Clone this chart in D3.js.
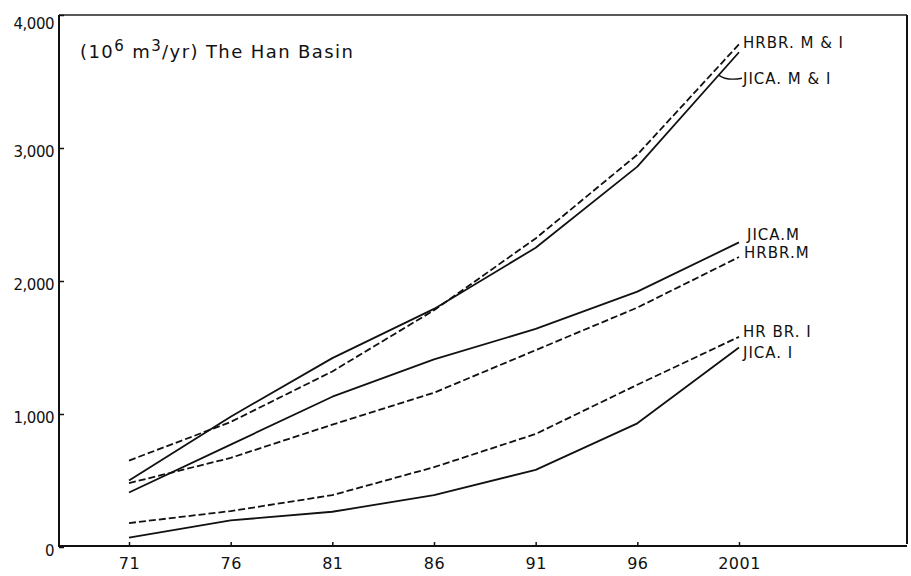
<!DOCTYPE html>
<html>
<head>
<meta charset="utf-8">
<script src="https://cdn.jsdelivr.net/npm/d3@7"></script>
<style>
  body { margin: 0; background: #fff; }
  svg { display: block; }
  text { font-family: "DejaVu Sans", "Liberation Sans", sans-serif; fill: #111; }
</style>
</head>
<body>
<div id="chart"></div>
<script>
// Han Basin water demand, 10^6 m3/yr
var w = 911,
    h = 576;
var plotLeft = 59, plotRight = 907, plotTop = 15, plotBottom = 547;

var years = [1971, 1976, 1981, 1986, 1991, 1996, 2001];
var yearLabels = ["71", "76", "81", "86", "91", "96", "2001"];
var yTicks = [0, 1000, 2000, 3000, 4000];

var hrbrMI = [650, 940, 1320, 1780, 2320, 2950, 3780];
var jicaMI = [500, 980, 1420, 1790, 2250, 2860, 3720];
var jicaM  = [410, 770, 1130, 1410, 1640, 1920, 2290];
var hrbrM  = [480, 670, 920, 1160, 1480, 1800, 2180];
var hrbrI  = [180, 270, 390, 600, 850, 1220, 1580];
var jicaI  = [70, 200, 265, 390, 580, 930, 1500];

var seriesLabels = ["HRBR. M & I", "JICA. M & I", "JICA.M", "HRBR.M", "HR BR. I", "JICA. I"];

var series = [hrbrMI, jicaMI, jicaM, hrbrM, hrbrI, jicaI].map(function(v, i) {
  return { name: seriesLabels[i], values: v };
});
// dashed = HRBR, solid = JICA
var dashed = [true, false, false, true, true, false];
var labelShift = [-2, 26, -8, -4, -5, 5];
var labelNudge = [4, 4, 8, 5, 4, 4];

var xScale = d3.scaleLinear()
    .domain([1971, 2001])
    .range([129, 739]);

var yScale = d3.scaleLinear()
    .domain([0, 4000])
    .range([plotBottom, plotTop]);

var svg = d3.select("#chart")
    .append("svg")
    .attr("width", w)
    .attr("height", h);

// frame
svg.append("line")
    .attr("x1", plotLeft).attr("x2", plotRight).attr("y1", plotTop).attr("y2", plotTop)
    .attr("stroke", "#222").attr("stroke-width", 1.3);
svg.append("line")
    .attr("x1", plotRight).attr("x2", plotRight).attr("y1", plotTop).attr("y2", plotBottom - 3)
    .attr("stroke", "#111").attr("stroke-width", 2);

// x axis
var xAxis = svg.append("g")
    .attr("transform", "translate(0," + (plotBottom - 1) + ")")
    .call(d3.axisBottom(xScale)
      .tickValues(years)
      .tickFormat(function(d, i) { return yearLabels[i]; })
      .tickSize(-4)
      .tickPadding(12));
xAxis.select(".domain").remove();
xAxis.append("line")
    .attr("x1", plotLeft).attr("x2", plotRight)
    .attr("stroke", "#111").attr("stroke-width", 2);
xAxis.selectAll(".tick line").attr("stroke", "#111").attr("stroke-width", 1.5);
xAxis.selectAll("text")
    .attr("font-size", 16)
    .attr("fill", "#111")
    .attr("letter-spacing", 0.5)
    .style("font-family", "DejaVu Sans, sans-serif");

// y axis
var yAxis = svg.append("g")
    .attr("transform", "translate(" + plotLeft + ",0)")
    .call(d3.axisLeft(yScale)
      .tickValues(yTicks)
      .tickFormat(d3.format(","))
      .tickSize(-5)
      .tickPadding(5));
yAxis.select(".domain").remove();
yAxis.append("line")
    .attr("y1", plotTop).attr("y2", plotBottom)
    .attr("stroke", "#111").attr("stroke-width", 2);
yAxis.selectAll(".tick line").attr("stroke", "#111").attr("stroke-width", 1.5);
yAxis.selectAll("text")
    .attr("font-size", 15)
    .attr("fill", "#111")
    .attr("letter-spacing", -0.5)
    .attr("dy", function(d) { return d === 4000 ? "0.9em" : "0.55em"; })
    .style("font-family", "DejaVu Sans, sans-serif");

// title
var title = svg.append("text")
    .attr("x", 80)
    .attr("y", 58)
    .attr("font-size", 18)
    .attr("letter-spacing", 1.4);
title.append("tspan").text("(10");
title.append("tspan").attr("dy", -7).attr("font-size", 15).text("6");
title.append("tspan").attr("dy", 7).text(" m");
title.append("tspan").attr("dy", -7).attr("font-size", 15).text("3");
title.append("tspan").attr("dy", 7).text("/yr) The  Han  Basin");

// lines
var line = d3.line()
    .x(function(d, i) { return xScale(years[i]); })
    .y(function(d) { return yScale(d); });

svg.selectAll(".series")
    .data(series)
    .enter().append("path")
    .attr("class", "series")
    .attr("fill", "none")
    .attr("stroke", "#111")
    .attr("stroke-width", 1.8)
    .attr("stroke-linejoin", "round")
    .attr("stroke-dasharray", function(d, i) { return dashed[i] ? "7,3" : null; })
    .attr("d", function(d) { return line(d.values); });

// end labels
svg.selectAll(".lab")
    .data(series)
    .enter().append("text")
    .attr("class", "lab")
    .attr("x", function(d, i) { return xScale(2001) + labelNudge[i]; })
    .attr("y", function(d, i) { return yScale(d.values[d.values.length - 1]) + labelShift[i]; })
    .attr("dy", "0.36em")
    .attr("font-size", 15)
    .attr("letter-spacing", 1)
    .text(function(d) { return d.name; });

// leader for JICA M & I
var n = jicaMI.length;
var vAt = jicaMI[n - 2] + (jicaMI[n - 1] - jicaMI[n - 2]) * 0.8;
var lx = xScale(2000), ly = yScale(vAt);
svg.append("path")
    .attr("fill", "none")
    .attr("stroke", "#111")
    .attr("stroke-width", 1.3)
    .attr("d", "M" + lx + "," + ly + " Q" + (lx + 8) + "," + (ly + 6) + " " + (xScale(2001) + 3) + "," + (yScale(jicaMI[n - 1]) + labelShift[1]));
</script>
</body>
</html>
